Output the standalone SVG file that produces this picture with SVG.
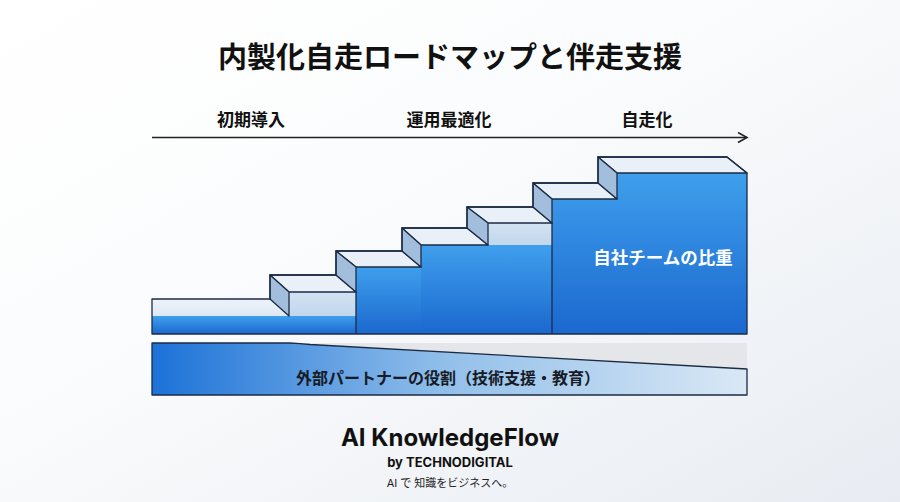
<svg xmlns="http://www.w3.org/2000/svg" width="900" height="502" viewBox="0 0 900 502">
<defs>
<linearGradient id="bg" x1="0" y1="0" x2="1" y2="1">
<stop offset="0" stop-color="#ffffff"/>
<stop offset="0.4" stop-color="#fbfcfd"/>
<stop offset="1" stop-color="#e8ecf2"/>
</linearGradient>
<linearGradient id="blue" x1="0" y1="0" x2="0" y2="1">
<stop offset="0" stop-color="#3f9fec"/>
<stop offset="1" stop-color="#1b68cf"/>
</linearGradient>
<linearGradient id="band" x1="0" y1="0" x2="1" y2="0">
<stop offset="0" stop-color="#1c72d8"/>
<stop offset="0.5" stop-color="#93c0ea"/>
<stop offset="1" stop-color="#dae8f5"/>
</linearGradient>
<linearGradient id="lite1" x1="0" y1="0" x2="0" y2="1">
<stop offset="0" stop-color="#eef3fa"/>
<stop offset="1" stop-color="#dde8f4"/>
</linearGradient>
<linearGradient id="lite2" x1="0" y1="0" x2="0" y2="1">
<stop offset="0" stop-color="#d2e2f2"/>
<stop offset="1" stop-color="#c2d7ed"/>
</linearGradient>
<marker id="arr" viewBox="0 0 12 12" refX="10" refY="6" markerWidth="12" markerHeight="12" markerUnits="userSpaceOnUse" orient="auto">
<path d="M1,1 L10,6 L1,11" fill="none" stroke="#222" stroke-width="1.6"/>
</marker>
<style>
.ttl{font-family:"Noto Sans CJK JP",sans-serif;font-weight:700;fill:#111;}
.ph{font-family:"Noto Sans CJK JP",sans-serif;font-weight:700;font-size:17px;fill:#111;text-anchor:middle;}
.top{fill:#e9f0f8;stroke:#1b2b44;stroke-width:1.3;stroke-linejoin:round;}
.side{fill:#a2bedc;stroke:#1b2b44;stroke-width:1.3;stroke-linejoin:round;}
.ln{fill:none;stroke:#1b2b44;stroke-width:1.3;stroke-linejoin:round;}
.ft{font-family:Inter,"Liberation Sans",sans-serif;font-weight:700;fill:#111;text-anchor:middle;}
</style>
</defs>
<rect width="900" height="502" fill="url(#bg)"/>
<text class="ttl" x="450" y="68" font-size="29" text-anchor="middle">内製化自走ロードマップと伴走支援</text>
<g id="phases">
<text class="ph" x="251" y="126">初期導入</text>
<text class="ph" x="449" y="126">運用最適化</text>
<text class="ph" x="647" y="126">自走化</text>
</g>
<g id="connectors">
<line x1="152" y1="137.5" x2="747" y2="137.5" stroke="#222" stroke-width="1.6" marker-end="url(#arr)"/>
</g>
<g id="stairs">
<rect x="152" y="299" width="137" height="17" fill="url(#lite1)"/>
<rect x="152" y="316" width="137" height="18" fill="url(#blue)"/>
<rect x="289" y="292" width="67" height="24" fill="url(#lite2)"/>
<rect x="289" y="316" width="67" height="18" fill="url(#blue)"/>
<rect x="356" y="267" width="65" height="67" fill="url(#blue)"/>
<rect x="421" y="245" width="67" height="89" fill="url(#blue)"/>
<rect x="488" y="223" width="64" height="22" fill="url(#lite2)"/>
<rect x="488" y="245" width="64" height="89" fill="url(#blue)"/>
<path d="M552,199 L617,199 L617,173 L747,173 L747,334 L552,334 Z" fill="url(#blue)"/>
<polygon class="top" points="270,275 336,275 356,292 289,292"/>
<polygon class="top" points="336,251 402,251 421,267 356,267"/>
<polygon class="top" points="402,228 467,228 488,245 421,245"/>
<polygon class="top" points="467,207 533,207 552,223 488,223"/>
<polygon class="top" points="533,183 598,183 617,199 552,199"/>
<polygon class="top" points="598,157 727,157 747,173 617,173"/>
<polygon class="side" points="270,275 289,292 289,316 270,299"/>
<polygon class="side" points="336,251 356,267 356,292 336,275"/>
<polygon class="side" points="402,228 421,245 421,267 402,251"/>
<polygon class="side" points="467,207 488,223 488,245 467,228"/>
<polygon class="side" points="533,183 552,199 552,223 533,207"/>
<polygon class="side" points="598,157 617,173 617,199 598,183"/>
<path class="ln" d="M152,334 L152,299 L270,299 L270,275 L336,275 L336,251 L402,251 L402,228 L467,228 L467,207 L533,207 L533,183 L598,183 L598,157 L727,157 L747,173 L747,334 Z"/>
<path class="ln" d="M356,292 L356,334 M552,223 L552,334"/>
<text x="663" y="264" font-family="'Noto Sans CJK JP',sans-serif" font-weight="700" font-size="17.5" fill="#ffffff" text-anchor="middle">自社チームの比重</text>
</g>
<g id="partner">
<rect x="152" y="343" width="595" height="52" fill="#e4e6ea"/>
<path d="M152,343 L290,343 Q300,343.5 310,344.5 L747,369 L747,395 L152,395 Z" fill="url(#band)" stroke="#1b2b44" stroke-width="1.3" stroke-linejoin="round"/>
<text x="448" y="384" font-family="'Noto Sans CJK JP',sans-serif" font-weight="700" font-size="16" fill="#161b26" text-anchor="middle">外部パートナーの役割（技術支援・教育）</text>
</g>
<g id="footer">
<text class="ft" x="450" y="446" font-size="24">AI KnowledgeFlow</text>
<text class="ft" x="450" y="467" font-size="13">by TECHNODIGITAL</text>
<text x="450" y="487" font-family="Inter,'Noto Sans CJK JP',sans-serif" font-size="11" fill="#222" text-anchor="middle">AI で 知識をビジネスへ。</text>
</g>
</svg>
